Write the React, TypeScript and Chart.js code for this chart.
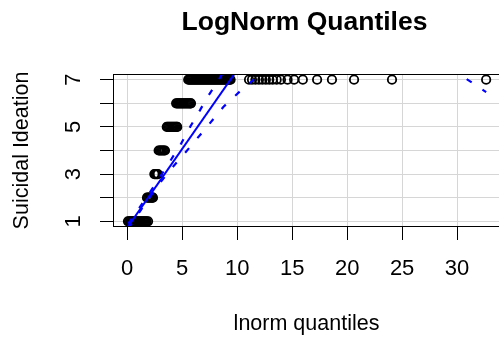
import React, { useEffect, useRef } from 'react';
import { Chart, registerables } from 'chart.js';

Chart.register(...registerables);

// ---------- text ----------
const chartTitle = 'LogNorm Quantiles';
const xTitle = 'lnorm quantiles';
const yTitle = 'Suicidal Ideation';

// ---------- axes ----------
const xTicks = [0, 5, 10, 15, 20, 25, 30];
const yTicks = [1, 2, 3, 4, 5, 6, 7];
const yTickLabels = [1, 3, 5, 7];
const xRange = [-1.29, 33.9];
const yRange = [0.76, 7.24];

// ---------- observed values (y level) vs lognormal quantiles (x) ----------
const levels = [1, 2, 3, 4, 5, 6, 7];
const level1X = [0.07, 0.17, 0.27, 0.37, 0.47, 0.57, 0.67, 0.77, 0.87, 0.97, 1.07, 1.17, 1.27, 1.37, 1.47, 1.57, 1.67, 1.77, 1.9];
const level2X = [1.8, 1.9, 2.0, 2.1, 2.2, 2.3, 2.34];
const level3X = [2.47, 2.55, 2.63, 2.71, 2.79];
const level4X = [2.86, 2.95, 3.05, 3.15, 3.25, 3.35, 3.44];
const level5X = [3.6, 3.7, 3.8, 3.9, 4.0, 4.1, 4.2, 4.3, 4.4, 4.5, 4.55];
const level6X = [4.45, 4.55, 4.65, 4.75, 4.85, 4.95, 5.05, 5.15, 5.25, 5.35, 5.45, 5.55, 5.65, 5.75, 5.8];
const level7X = [
  5.55, 5.65, 5.75, 5.85, 5.95, 6.05, 6.15, 6.25, 6.35, 6.45, 6.55, 6.65, 6.75, 6.85, 6.95,
  7.05, 7.15, 7.25, 7.35, 7.45, 7.55, 7.65, 7.75, 7.85, 7.95, 8.05, 8.15, 8.25, 8.35, 8.45,
  8.55, 8.65, 8.75, 8.85, 8.95, 9.05, 9.15, 9.25, 9.35, 9.4,
  11.08, 11.35, 11.66, 11.98, 12.29, 12.61, 12.92, 13.23, 13.59, 13.98, 14.58, 15.18, 15.97,
  17.27, 18.62, 20.63, 24.08, 32.64,
];
const levelXs = [level1X, level2X, level3X, level4X, level5X, level6X, level7X];

// ---------- reference line and confidence envelope ----------
const fitIntercept = 0.727;
const fitSlope = 0.668;
const envX = [0.1, 1, 2, 3, 4, 4.85, 5.75, 6.65, 7.24, 7.55, 8.14, 8.74, 9.5, 10.24, 11.17, 12.5, 14, 16, 18.63, 20.63, 24.08, 32.64];
const envUpper = [0.9, 1.5, 2.18, 2.89, 3.62, 4.25, 5.02, 5.73, 6.22, 6.44, 6.86, 7.32, 7.9, 8.5, 9.2, 10.3, 11.5, 13.2, 15.4, 17.2, 20.5, 30];
const envLower = [0.69, 1.31, 1.99, 2.64, 3.22, 3.68, 4.17, 4.67, 4.95, 5.17, 5.5, 5.84, 6.18, 6.5, 6.87, 7.4, 7.9, 8.4, 8.9, 9.1, 9.16, 6.47];

const FF = '"Liberation Sans", Arial, sans-serif';
const BLUE = '#0000FF';

const textPlugin = {
  id: 'rText',
  afterDraw(chart: any) {
    const { ctx, chartArea: ca, scales } = chart;
    const xs = scales.x;
    const ys = scales.y;
    ctx.save();
    // box
    ctx.strokeStyle = '#000';
    ctx.lineWidth = 1;
    ctx.strokeRect(Math.round(ca.left) + 0.5, Math.round(ca.top) + 0.5, Math.round(ca.right - ca.left) - 1, Math.round(ca.bottom - ca.top) - 1);
    ctx.fillStyle = '#000';
    const cx = (ca.left + ca.right) / 2;
    const cy = (ca.top + ca.bottom) / 2;
    // title
    ctx.font = `bold 26.5px ${FF}`;
    ctx.textAlign = 'center';
    ctx.textBaseline = 'alphabetic';
    ctx.fillText(chartTitle, cx - 2, 30);
    // x tick labels
    ctx.font = `22px ${FF}`;
    xTicks.forEach((v) => {
      ctx.fillText(String(v), xs.getPixelForValue(v), 275);
    });
    // y tick labels (rotated)
    yTickLabels.forEach((v) => {
      ctx.save();
      ctx.translate(80, ys.getPixelForValue(v));
      ctx.rotate(-Math.PI / 2);
      ctx.fillText(String(v), 0, 0);
      ctx.restore();
    });
    // axis titles
    ctx.font = `21.5px ${FF}`;
    ctx.fillText(xTitle, cx, 330);
    ctx.save();
    ctx.translate(28, cy);
    ctx.rotate(-Math.PI / 2);
    ctx.fillText(yTitle, 0, 0);
    ctx.restore();
    ctx.restore();
  },
};

export default function App() {
  const ref = useRef<HTMLCanvasElement>(null);

  useEffect(() => {
    if (!ref.current) return;
    const points: { x: number; y: number }[] = [];
    levels.forEach((lv, i) => {
      levelXs[i].forEach((x) => points.push({ x, y: lv }));
    });
    const fitData = [xRange[0], xRange[1]].map((x) => ({ x, y: fitIntercept + fitSlope * x }));
    const upperData = envX.map((x, i) => ({ x, y: envUpper[i] }));
    const lowerData = envX.map((x, i) => ({ x, y: envLower[i] }));

    const chart = new Chart(ref.current, {
      type: 'scatter',
      data: {
        datasets: [
          {
            data: fitData,
            showLine: true,
            borderColor: BLUE,
            borderWidth: 2,
            pointRadius: 0,
          } as any,
          {
            data: upperData,
            showLine: true,
            borderColor: BLUE,
            borderWidth: 2.2,
            borderDash: [6, 13],
            pointRadius: 0,
          } as any,
          {
            data: lowerData,
            showLine: true,
            borderColor: BLUE,
            borderWidth: 2.2,
            borderDash: [6, 13],
            pointRadius: 0,
          } as any,
          {
            data: points,
            pointStyle: 'circle',
            pointRadius: 4.2,
            pointBorderWidth: 1.8,
            pointBorderColor: '#000',
            pointBackgroundColor: 'rgba(0,0,0,0)',
            showLine: false,
          } as any,
        ],
      },
      options: {
        responsive: false,
        animation: false,
        events: [],
        layout: { padding: { top: 74, right: 1, bottom: 0, left: 0 } },
        plugins: {
          legend: { display: false },
          tooltip: { enabled: false },
          title: { display: false },
        },
        scales: {
          x: {
            type: 'linear',
            min: xRange[0],
            max: xRange[1],
            afterBuildTicks: (s: any) => {
              s.ticks = xTicks.map((v) => ({ value: v }));
            },
            afterFit: (s: any) => {
              s.height = 110;
            },
            ticks: { display: false },
            grid: {
              color: '#d6d6d6',
              lineWidth: 1,
              drawTicks: true,
              tickLength: 13,
              tickColor: '#000',
              tickWidth: 1,
            },
            border: { display: false },
          },
          y: {
            type: 'linear',
            min: yRange[0],
            max: yRange[1],
            afterBuildTicks: (s: any) => {
              s.ticks = yTicks.map((v) => ({ value: v }));
            },
            afterFit: (s: any) => {
              s.width = 113;
            },
            ticks: { display: false },
            grid: {
              color: '#d6d6d6',
              lineWidth: 1,
              drawTicks: true,
              tickLength: 13,
              tickColor: '#000',
              tickWidth: 1,
            },
            border: { display: false },
          },
        },
      },
      plugins: [textPlugin],
    });
    return () => chart.destroy();
  }, []);

  return (
    <div style={{ position: 'fixed', left: 0, top: 0, width: 499, height: 337, overflow: 'hidden', background: '#fff' }}>
      <canvas ref={ref} width={506} height={337} style={{ display: 'block' }} />
    </div>
  );
}
